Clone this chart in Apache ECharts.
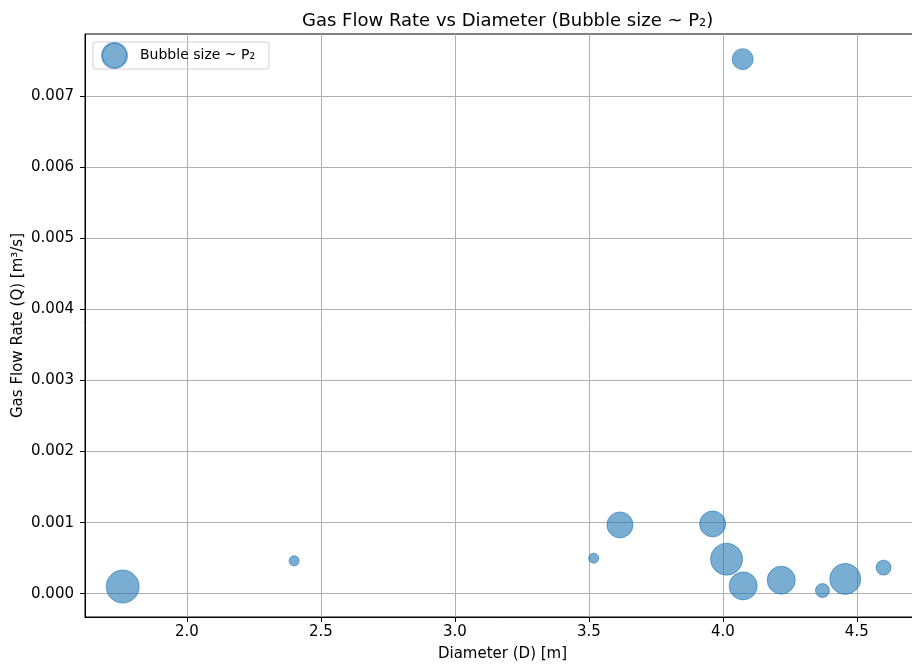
<!DOCTYPE html>
<html>
<head>
<meta charset="utf-8">
<script src="https://cdn.jsdelivr.net/npm/echarts@6/dist/echarts.min.js"></script>
<style>
  html, body { margin: 0; padding: 0; background: #fff; }
  #chart { width: 912px; height: 667px; }
</style>
</head>
<body>
<div id="chart"></div>
<script>
// Measured samples: pipe diameter, gas flow rate and downstream pressure P2
const diameter = [1.760, 2.400, 3.518, 3.616, 4.074, 3.962, 4.014, 4.076, 4.218, 4.372, 4.457, 4.600];
const flowRate = [0.000100, 0.000462, 0.000500, 0.000968, 0.007524, 0.000982, 0.000486, 0.000110, 0.000190, 0.000044, 0.000208, 0.000367];
const p2 = [272, 25, 25, 169, 110, 169, 256, 196, 196, 49, 240, 56];

const xTicks = [2.0, 2.5, 3.0, 3.5, 4.0, 4.5];
const yTicks = [0.000, 0.001, 0.002, 0.003, 0.004, 0.005, 0.006, 0.007];

const FONT = 'DejaVu Sans';
const BLUE = '#1f77b4';

const points = diameter.map((d, i) => [d, flowRate[i], p2[i]]);

const chart = echarts.init(document.getElementById('chart'), null, { renderer: 'canvas' });
chart.setOption({
  animation: false,
  backgroundColor: '#fff',
  title: {
    text: 'Gas Flow Rate vs Diameter (Bubble size ~ P₂)',
    left: 297,
    top: 7,
    textStyle: { fontFamily: FONT, fontSize: 18, fontWeight: 'normal', color: '#000' }
  },
  legend: {
    left: 93,
    top: 42,
    orient: 'vertical',
    icon: 'circle',
    itemWidth: 25,
    itemHeight: 25,
    itemGap: 0,
    padding: [0, 14, 0, 8],
    borderColor: '#d0d0d0',
    borderWidth: 1,
    borderRadius: 3,
    textStyle: { fontFamily: FONT, fontSize: 14, color: '#000', padding: [0, 0, 0, 8] },
    data: ['Bubble size ~ P₂']
  },
  // the plot frame runs slightly past the right edge of the canvas
  grid: {
    left: 85, right: -8, top: 34, bottom: 50,
    containLabel: false, outerBoundsMode: 'none',
    show: true, borderColor: '#000', borderWidth: 1
  },
  xAxis: {
    type: 'value',
    min: 1.6194,
    max: 4.736,
    name: 'Diameter (D) [m]',
    nameLocation: 'middle',
    nameGap: 30,
    nameMoveOverlap: false,
    nameTextStyle: { fontFamily: FONT, fontSize: 15, color: '#000' },
    axisLine: { show: true, onZero: false, lineStyle: { color: '#000', width: 1 } },
    axisTick: { show: true, length: 5, customValues: xTicks, lineStyle: { color: '#000' } },
    axisLabel: {
      customValues: xTicks,
      margin: 8,
      fontFamily: FONT, fontSize: 15, color: '#000',
      formatter: v => v.toFixed(1)
    },
    splitLine: { show: true, lineStyle: { color: '#b0b0b0', width: 1 } }
  },
  yAxis: {
    type: 'value',
    min: -0.000328,
    max: 0.007878,
    name: 'Gas Flow Rate (Q) [m³/s]',
    nameLocation: 'middle',
    nameGap: 59,
    nameMoveOverlap: false,
    nameTextStyle: { fontFamily: FONT, fontSize: 15, color: '#000' },
    axisLine: { show: true, onZero: false, lineStyle: { color: '#000', width: 1 } },
    axisTick: { show: true, length: 5, customValues: yTicks, lineStyle: { color: '#000' } },
    axisLabel: {
      customValues: yTicks,
      margin: 11,
      fontFamily: FONT, fontSize: 15, color: '#000',
      formatter: v => v.toFixed(3)
    },
    splitLine: { show: true, lineStyle: { color: '#b0b0b0', width: 1 } }
  },
  series: [{
    name: 'Bubble size ~ P₂',
    type: 'scatter',
    data: points,
    symbolSize: v => 2 * Math.sqrt(v[2]),
    itemStyle: { color: BLUE, opacity: 0.6, borderColor: BLUE, borderWidth: 1 }
  }]
});
</script>
</body>
</html>
